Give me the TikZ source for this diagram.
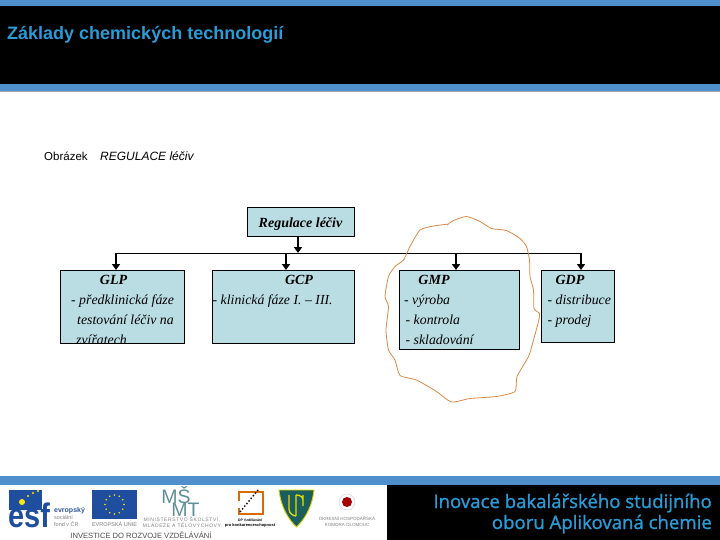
\documentclass[tikz,border=0pt]{standalone}
\usepackage{fontspec}
\setmainfont{Liberation Serif}
\setsansfont{Liberation Sans}
\newfontfamily\footfont{Open Sans}
\definecolor{barblue}{HTML}{4F8FCB}
\definecolor{titleblue}{HTML}{2A9BD6}
\definecolor{boxfill}{HTML}{B9DDE3}
\definecolor{curve}{HTML}{D98A45}
\definecolor{flagblue}{HTML}{1F4E9E}
\definecolor{logoteal}{HTML}{5F8F96}
\definecolor{upgreen}{HTML}{1C5E5E}
\usetikzlibrary{arrows.meta}
\tikzset{
  x=1pt,y=-1pt,
  chartbox/.style={draw=black,line width=0.9pt,fill=boxfill,inner sep=0pt,anchor=north west},
  boxhead/.style={font=\fontsize{14}{14}\selectfont\itshape\bfseries,inner sep=0pt,anchor=base},
  boxline/.style={font=\fontsize{13.8}{14}\selectfont\itshape,inner sep=0pt,anchor=base west},
  bus/.style={draw=black,line width=1pt},
  feed/.style={draw=black,line width=2.7pt,-{Triangle[length=6pt,width=8pt]}},
  logotext/.style={font=\sffamily\fontsize{5.5}{6}\selectfont,text=gray,inner sep=0pt},
  foottext/.style={anchor=base east,inner sep=0pt,text=titleblue,font=\footfont\fontsize{18.6}{20}\selectfont\addfontfeature{FakeBold=1.2}},
}
\begin{document}
\begin{tikzpicture}
\useasboundingbox (0,0) rectangle (720,540);
\fill[white] (0,0) rectangle (720,540);
% header
\fill[black] (0,0) rectangle (720,90);
\fill[barblue] (0,0) rectangle (720,6);
\fill[barblue] (0,84) rectangle (720,91);
\fill[gray!70] (0,91) rectangle (720,92.5);
\node[anchor=base west,inner sep=0pt,text=titleblue,font=\sffamily\bfseries\fontsize{18}{20}\selectfont] (title) at (7,40) {Základy chemických technologií};
% caption
\node[anchor=base west,inner sep=0pt,font=\sffamily\fontsize{11.5}{13}\selectfont] (cap) at (44,161) {Obrázek};
\node[anchor=base west,inner sep=0pt,font=\sffamily\itshape\fontsize{12}{13}\selectfont] (capb) at (100,161) {REGULACE léčiv};
% footer
\fill[barblue] (0,476) rectangle (720,485);
\fill[black] (387,485) rectangle (720,540);
\node[foottext] (fa) at (712,508) {Inovace bakalářského studijního};
\node[foottext] (fb) at (712,529) {oboru Aplikovaná chemie};
% boxes
\node[chartbox,minimum width=107.5pt,minimum height=29pt] (reg) at (246.5,207) {};
\node[chartbox,minimum width=124.5pt,minimum height=73pt] (glp) at (59.7,270) {};
\node[chartbox,minimum width=142pt,minimum height=73pt] (gcp) at (212.3,270) {};
\node[chartbox,minimum width=119.5pt,minimum height=79pt] (gmp) at (399.3,270.3) {};
\node[chartbox,minimum width=72.5pt,minimum height=72pt] (gdp) at (541.3,270.3) {};
% connectors
\coordinate (busl) at (116,253);
\coordinate (busr) at (581,253);
\coordinate (bust) at (298,253);
\coordinate (ingl) at (116,270);
\coordinate (ingc) at (286,270);
\coordinate (ingm) at (456,270);
\coordinate (ingd) at (581,270);
\draw[bus] (busl) -- (busr);
\draw[feed] (reg.south -| bust) -- (bust);
\draw[feed] (busl) -- (ingl);
\draw[feed] (ingc |- busl) -- (ingc);
\draw[feed] (ingm |- busl) -- (ingm);
\draw[feed] (busr) -- (ingd);
% box texts
\node[boxhead] (tr) at (300.5,227) {Regulace léčiv};
\node[boxhead] (tg1) at (113.5,284) {GLP};
\node[boxline] (tg2) at (71,304) {- předklinická fáze};
\node[boxline] (tg3) at (77,324) {testování léčiv na};
\begin{scope}
\clip (59.7,270) rectangle (184.3,342.5);
\node[boxline] (tg4) at (76,344) {zvířatech};
\end{scope}
\node[boxhead] (tc1) at (299,284) {GCP};
\node[boxline] (tc2) at (212.5,304) {- klinická fáze I. – III.};
\node[boxhead] (tm1) at (434,284) {GMP};
\node[boxline] (tm2) at (404,304) {- výroba};
\node[boxline] (tm3) at (405.5,324) {- kontrola};
\node[boxline] (tm4) at (405.5,344) {- skladování};
\node[boxhead] (td1) at (570,284) {GDP};
\node[boxline] (td2) at (547.5,304) {- distribuce};
\node[boxline] (td3) at (547.5,324) {- prodej};
% hand-drawn ring
\draw[curve,line width=0.8pt,line join=round]
 plot[smooth,tension=0.35] coordinates {(447,225) (453.5,220.5) (466.5,216.5) (480,221.5) (491.5,228.5) (506.5,230.5) (520,238.5) (526.5,246.5) (529.5,260) (530,276.5) (533.5,290) (534,308.5) (539.5,313.5) (538.5,321.5) (533.5,340) (528.5,356.5) (517,376.5) (515,391.5) (496.5,396.5) (470,398.5) (451.5,402) (436.5,391.5) (416.5,380) (400,375.5) (395,360) (388.5,350) (386,330) (388.5,306.5) (385,296.5) (388.5,276.5) (395,266.5) (403.5,260) (410,246.5) (420,230) (433.5,226) (449,224)};
% logos
\begin{scope}
\clip (0,485) rectangle (387,540);
% esf
\fill[flagblue] (9,489.5) rectangle (42,510);
\fill[yellow!90!orange] (22,502) circle (3pt);
\foreach \a/\b in {28/496,33/493,38/491}{\fill[yellow!90!orange] (\a,\b) circle (1.2pt);}
\node[anchor=base west,inner sep=0pt,text=flagblue,xscale=0.85,font=\sffamily\bfseries\fontsize{34}{34}\selectfont] (esf) at (8,527) {esf};
\node[anchor=base west,inner sep=0pt,text=flagblue!80!gray,font=\sffamily\bfseries\fontsize{7}{7}\selectfont] (ev) at (54,512) {evropský};
\node[logotext,anchor=base west] (ev2) at (54,519) {sociální};
\node[logotext,anchor=base west] (ev3) at (54,526) {fond v ČR};
% EU
\fill[flagblue] (92,490) rectangle (137,519);
\foreach \n in {0,30,...,330}{\fill[yellow!90!orange] (114.5,504.5) ++(\n:9.5pt) circle (0.9pt);}
\node[logotext,anchor=base] (eu) at (114.5,526) {EVROPSKÁ UNIE};
% MSMT
\node[anchor=base,inner sep=0pt,text=logoteal,font=\sffamily\fontsize{19.5}{20}\selectfont] (ms) at (176,503) {MŠ};
\node[anchor=base,inner sep=0pt,text=logoteal,font=\sffamily\fontsize{19.5}{20}\selectfont] (mt) at (185.5,516) {MT};
\node[logotext,anchor=base,font=\sffamily\fontsize{5}{5}\selectfont\addfontfeature{LetterSpace=12}] (m1) at (182,521.5) {MINISTERSTVO ŠKOLSTVÍ,};
\node[logotext,anchor=base,font=\sffamily\fontsize{5}{5}\selectfont\addfontfeature{LetterSpace=12}] (m2) at (182,527) {MLÁDEŽE A TĚLOVÝCHOVY};
% OP
\draw[orange!85!black,line width=1.2pt] (239,501) -- (239,492) -- (263,492) -- (263,514) -- (239,514) -- (239,508);
\draw[black,line width=1.4pt,dotted] (240,512) -- (258,490);
\node[anchor=base,inner sep=0pt,font=\sffamily\bfseries\fontsize{3.5}{4}\selectfont] (o1) at (250,521) {OP Vzdělávání};
\node[anchor=base,inner sep=0pt,font=\sffamily\bfseries\fontsize{4}{4}\selectfont] (o2) at (250,526) {pro konkurenceschopnost};
% UP
\fill[upgreen,draw=yellow!70!olive,line width=0.9pt] (279,490) -- (314,490) .. controls (312,508) and (304,520) .. (296.5,527) .. controls (289,520) and (281,508) .. (279,490) -- cycle;
\draw[yellow!80!olive,line width=1.3pt] (289,495) -- (289,509) .. controls (289,514) and (294,516) .. (296,516) (296,495) -- (296,516) (303,495) -- (303,506) (296,495) .. controls (300,495) and (303,497) .. (303,500);
% OHK
\fill[red!65!black] (347,502) circle (5pt);
\draw[gray!40] (347,502) circle (8pt);
\node[logotext,anchor=base,font=\sffamily\fontsize{4.5}{5}\selectfont] (k1) at (347,520) {OKRESNÍ HOSPODÁŘSKÁ};
\node[logotext,anchor=base,font=\sffamily\fontsize{4.5}{5}\selectfont] (k2) at (347,526.5) {KOMORA OLOMOUC};
\node[anchor=base,inner sep=0pt,text=black!70,font=\sffamily\fontsize{7.6}{9}\selectfont] (inv) at (141,538.8) {INVESTICE DO ROZVOJE VZDĚLÁVÁNÍ};
\end{scope}
\end{tikzpicture}
\end{document}
